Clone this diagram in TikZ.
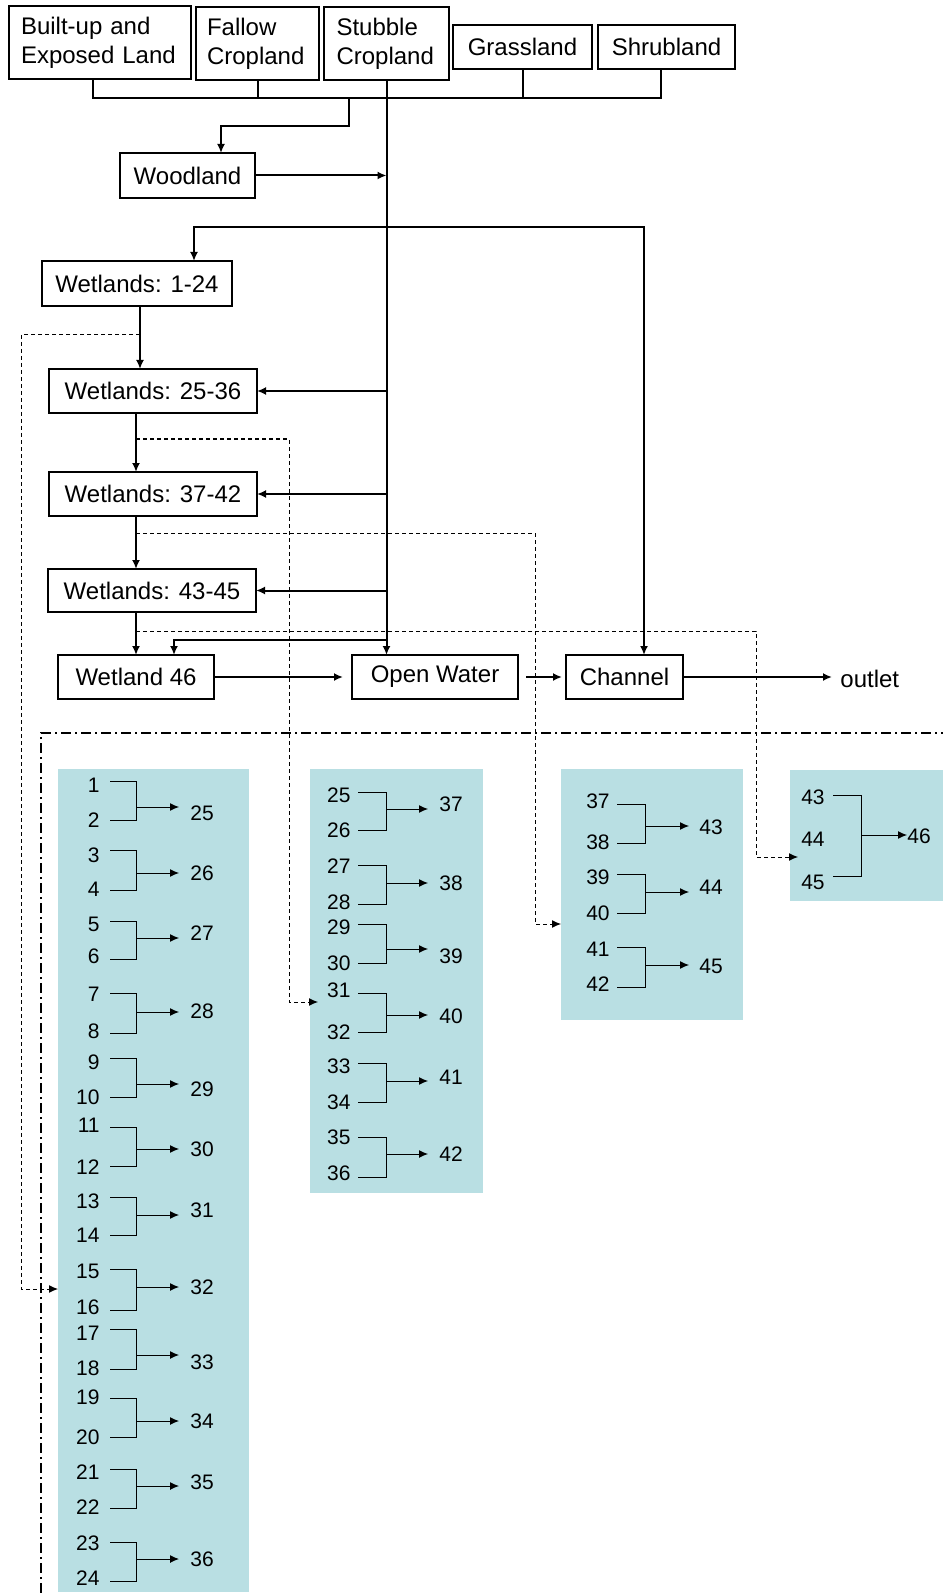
\documentclass[tikz,border=0pt]{standalone}
\usepackage{fontspec}
\setmainfont{Liberation Sans}
\usetikzlibrary{arrows.meta,calc}
\definecolor{blockfill}{RGB}{185,223,227}
\tikzset{
  landbox/.style={draw, line width=1pt, inner sep=0pt, outer sep=0pt, anchor=north west,
    font=\fontsize{12}{14.4}\selectfont},
  flow/.style={line width=1pt, -{Latex[length=4.5pt,width=4pt]}},
  flowboth/.style={line width=1pt, {Latex[length=4.5pt,width=4pt]}-{Latex[length=4.5pt,width=4pt]}},
  flowline/.style={line width=1pt},
  link/.style={line width=0.5pt, dash pattern=on 2pt off 1.5pt, -{Latex[length=4.5pt,width=4pt]}},
  boundary/.style={line width=0.9pt, dash pattern=on 5pt off 2pt on 1pt off 2pt},
  block/.style={fill=blockfill, inner sep=0pt, outer sep=0pt, anchor=north west},
  num/.style={inner sep=0pt, font=\fontsize{10.5}{12.6}\selectfont},
  bracket/.style={line width=0.5pt},
  bracketarrow/.style={line width=0.5pt, -{Latex[length=4.5pt,width=4pt]}},
}
% column geometry: label right edge, bracket start, bracket spine, arrow end, result left edge
\newcommand\colparams[5]{\def\lblR{#1}\def\brS{#2}\def\brV{#3}\def\arrX{#4}\def\outL{#5}}
% two wetlands merging into one downstream wetland
\newcommand\mergepair[9]{%
  \node[num, anchor=east] (in-#1) at (\lblR,#2) {#1};
  \node[num, anchor=east] (in-#3) at (\lblR,#4) {#3};
  \draw[bracket] (\brS,#5) -- (\brV,#5) -- (\brV,#6) -- (\brS,#6);
  \node[num, anchor=west] (out-#8) at (\outL,#9) {#8};
  \coordinate (jn-#8) at (\brV,#7);
  \draw[bracketarrow] (jn-#8) -- (\arrX,#7);
}
\begin{document}
\begin{tikzpicture}[x=0.5pt,y=-0.5pt]
\useasboundingbox (0,0) rectangle (943,1593);

% shaded routing tables
\node[block, minimum width=95.5pt, minimum height=411.5pt] (blk1) at (58,769) {};
\node[block, minimum width=86.5pt, minimum height=212pt] (blk2) at (310,769) {};
\node[block, minimum width=91pt, minimum height=125.5pt] (blk3) at (561,769) {};
\node[block, minimum width=76.5pt, minimum height=65.5pt] (blk4) at (790,770) {};

% land cover sources
\node[landbox, minimum width=91pt, minimum height=36.5pt, text width=79pt, align=left] (built) at (9,6) {Built-up and\\Exposed Land};
\node[landbox, minimum width=61.5pt, minimum height=36.5pt, text width=50.5pt, align=left] (fallow) at (196,7) {Fallow\\Cropland};
\node[landbox, minimum width=62.5pt, minimum height=36.5pt, text width=50pt, align=left] (stubble) at (324,7) {Stubble\\Cropland};
\node[landbox, minimum width=69.5pt, minimum height=22pt] (grass) at (453,25) {Grassland};
\node[landbox, minimum width=68.5pt, minimum height=22pt] (shrub) at (598,25) {Shrubland};
\node[landbox, minimum width=67.5pt, minimum height=22.5pt] (wood) at (120,153) {Woodland};

% wetland chain and outflow
\node[landbox, minimum width=95pt, minimum height=22.5pt] (w124) at (42,261) {Wetlands: 1-24};
\node[landbox, minimum width=104pt, minimum height=22pt] (w2536) at (49,369) {Wetlands: 25-36};
\node[landbox, minimum width=104pt, minimum height=22pt] (w3742) at (49,472) {Wetlands: 37-42};
\node[landbox, minimum width=104pt, minimum height=21.5pt] (w4345) at (48,569) {Wetlands: 43-45};
\node[landbox, minimum width=78pt, minimum height=22pt] (w46) at (58,655) {Wetland 46};
\node[landbox, minimum width=83pt, minimum height=22pt] (open) at (352,655) {Open Water};
\node[landbox, minimum width=58.5pt, minimum height=22pt] (chan) at (566,655) {Channel};
\node[anchor=west, inner sep=0pt, font=\fontsize{12}{14.4}\selectfont] (outlet) at (840,679) {outlet};

% collector bus below the source boxes
\coordinate (busL) at (93,98);
\coordinate (busR) at (661,98);
\coordinate (busW) at (349,98);
\coordinate (woodBend) at (221,126);
\coordinate (splitL) at (194,227);
\coordinate (splitR) at (644,227);
\draw[flowline] (built.south -| busL) -- (busL) -- (busR) -- (shrub.south -| busR);
\draw[flowline] (fallow.south) -- (fallow.south |- busL);
\draw[flowline] (grass.south) -- (grass.south |- busL);
\draw[flow] (busW) |- (woodBend) -- (woodBend |- wood.north);
\draw[flow] (stubble.south) -- (stubble.south |- open.north);
\draw[flow] (wood.east) -- (wood.east -| stubble.south);
\draw[flowboth] (w124.north -| splitL) -- (splitL) -- (splitR) -- (chan.north -| splitR);

% lateral inflow to the wetland groups
\draw[flow] (w2536.east -| stubble.south) -- (w2536.east);
\draw[flow] (w3742.east -| stubble.south) -- (w3742.east);
\draw[flow] (w4345.east -| stubble.south) -- (w4345.east);
\coordinate (w46bend) at (174,640);
\draw[flow] (w46bend -| stubble.south) -- (w46bend) -- (w46bend |- w46.north);

% wetland cascade
\coordinate (c1) at (140,335);
\coordinate (c2) at (136,439);
\coordinate (c3) at (136,533);
\coordinate (c4) at (136,631);
\draw[flow] (w124.south -| c1) -- (c1 |- w2536.north);
\draw[flow] (w2536.south -| c2) -- (c2 |- w3742.north);
\draw[flow] (w3742.south -| c3) -- (c3 |- w4345.north);
\draw[flow] (w4345.south -| c4) -- (c4 |- w46.north);

\draw[flow, shorten >=4.5pt] (w46.east) -- (w46.east -| open.west);
\draw[flow, shorten <=4pt, shorten >=2pt] (open.east) -- (chan.west);
\draw[flow, shorten >=4pt] (chan.east) -- (chan.east -| outlet.west);

% links to the routing tables
\coordinate (d1) at (21,1289);
\coordinate (d2) at (289,1002);
\coordinate (d3) at (535,924);
\coordinate (d4) at (756,857);
\draw[link] (c1) -| (d1) -- (d1 -| blk1.west);
\draw[link] (c2) -| (d2) -- ($(d2 -| blk2.west)+(8,0)$);
\draw[link] (c3) -| (d3) -- (d3 -| blk3.west);
\draw[link] (c4) -| (d4) -- ($(d4 -| blk4.west)+(8,0)$);

% detail boundary
\coordinate (bndCorner) at (41,733);
\draw[boundary] (41,1593) -- (bndCorner) -- (943,733);

% table 1: wetlands 1-24
\colparams{100}{110}{136}{179}{190}
\mergepair{1}{785}{2}{820}{781}{820}{807}{25}{813}
\mergepair{3}{855}{4}{889}{850}{890}{873}{26}{873}
\mergepair{5}{924}{6}{956}{921}{959}{938}{27}{933}
\mergepair{7}{994}{8}{1031}{993}{1033}{1012}{28}{1011}
\mergepair{9}{1062}{10}{1097}{1058}{1097}{1084}{29}{1089}
\mergepair{11}{1125}{12}{1167}{1127}{1166}{1149}{30}{1149}
\mergepair{13}{1201}{14}{1235}{1197}{1235}{1215}{31}{1210}
\mergepair{15}{1271}{16}{1307}{1269}{1310}{1287}{32}{1287}
\mergepair{17}{1333}{18}{1368}{1329}{1369}{1355}{33}{1362}
\mergepair{19}{1397}{20}{1437}{1398}{1437}{1421}{34}{1421}
\mergepair{21}{1472}{22}{1507}{1469}{1508}{1486}{35}{1482}
\mergepair{23}{1543}{24}{1578}{1542}{1581}{1559}{36}{1559}

% table 2: wetlands 25-36
\colparams{351}{358}{386}{428}{439}
\mergepair{25}{795}{26}{830}{792}{830}{809}{37}{804}
\mergepair{27}{866}{28}{902}{865}{904}{883}{38}{883}
\mergepair{29}{927}{30}{963}{924}{963}{949}{39}{956}
\mergepair{31}{990}{32}{1032}{993}{1032}{1015}{40}{1016}
\mergepair{33}{1066}{34}{1102}{1063}{1102}{1081}{41}{1077}
\mergepair{35}{1137}{36}{1173}{1137}{1177}{1154}{42}{1154}

% table 3: wetlands 37-42
\colparams{610}{617}{645}{689}{699}
\mergepair{37}{801}{38}{842}{804}{843}{826}{43}{827}
\mergepair{39}{877}{40}{913}{874}{913}{892}{44}{887}
\mergepair{41}{949}{42}{984}{947}{987}{965}{45}{966}

% table 4: wetlands 43-45
\node[num, anchor=east] (in-43) at (825,797) {43};
\node[num, anchor=east] (in-44) at (825,839) {44};
\node[num, anchor=east] (in-45) at (825,882) {45};
\draw[bracket] (833,795) -- (861,795) -- (861,876) -- (833,876);
\node[num, anchor=west] (out-46) at (907,836) {46};
\coordinate (jn-46) at (861,835);
\draw[bracketarrow] (jn-46) -- (jn-46 -| out-46.west);
\end{tikzpicture}
\end{document}
